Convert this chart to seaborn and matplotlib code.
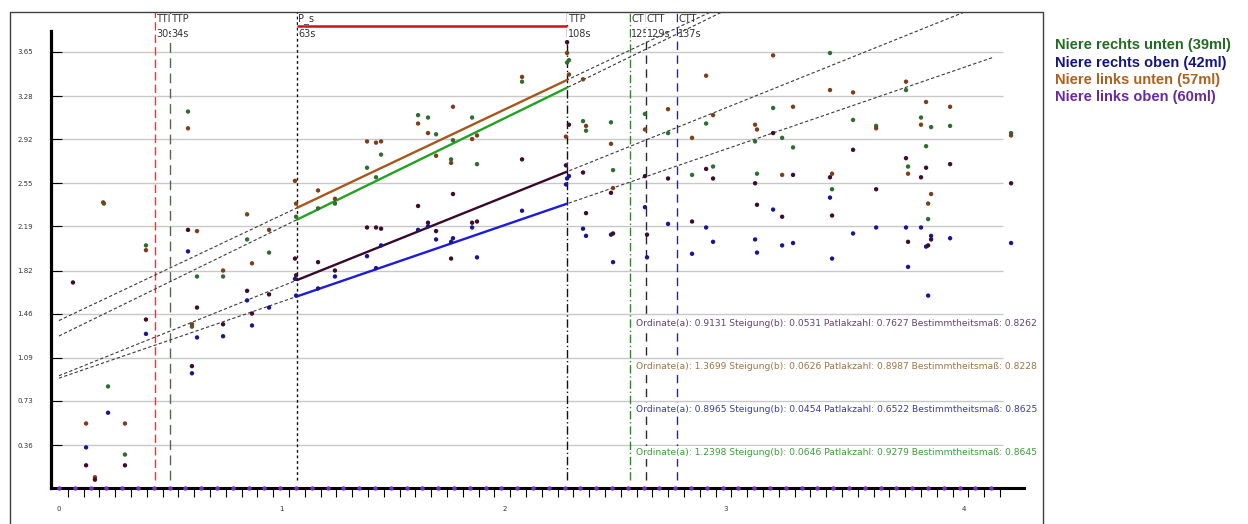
import numpy as np
import pandas as pd
import matplotlib
matplotlib.use('Agg')
import matplotlib.pyplot as plt
import seaborn as sns

# Series (legend order)
series_names = ['Niere rechts unten (39ml)', 'Niere rechts oben (42ml)',
                'Niere links unten (57ml)', 'Niere links oben (60ml)']
legend_colors = ['#226b22', '#15157f', '#b0601c', '#6a2a9e']
point_colors = ['#2e6e2e', '#18188c', '#7c3f1c', '#3e0c2c']
fit_colors = ['#22a322', '#1c1ce0', '#a8581c', '#380a2e']
text_colors = ['#3c9c3c', '#3c3ca0', '#9c7444', '#62406e']

# Patlak points, x in frame units, y in ratio units
green_x = [3.35, 3.61, 4.68, 6.01, 8.67, 8.92, 9.24, 10.89, 12.41, 13.80, 15.51, 16.90, 17.97,
           20.00, 20.57, 20.89, 23.23, 23.86, 24.37, 25.32, 25.44, 26.65, 26.96, 29.81, 32.66,
           32.78, 33.67, 33.86, 35.44, 35.57, 37.59, 39.05, 40.57, 41.46, 41.90, 44.56, 44.68,
           45.70, 46.27, 46.96, 49.30, 49.43, 50.76, 52.22, 54.11, 54.24, 55.06, 55.38, 55.51,
           55.70, 56.90, 60.76]
green_y = [2.38, 0.85, 0.28, 2.03, 3.15, 1.35, 1.77, 1.77, 2.08, 1.97, 2.27, 2.34, 2.38,
           2.68, 2.60, 2.79, 3.12, 3.10, 2.96, 2.75, 2.91, 3.10, 2.71, 3.40, 3.56,
           3.58, 3.07, 2.99, 3.06, 2.66, 3.13, 2.97, 2.62, 3.05, 2.69, 2.90, 2.63,
           3.18, 2.93, 2.85, 3.64, 2.50, 3.08, 3.03, 3.33, 2.69, 3.10, 2.86, 2.25,
           3.02, 3.03, 2.97]

blue_x = [2.22, 3.61, 6.01, 8.67, 8.92, 9.24, 10.89, 12.41, 12.72, 13.80, 15.44, 15.51, 16.90,
          17.97, 20.00, 20.57, 20.89, 23.23, 23.86, 24.37, 25.32, 25.44, 26.65, 26.96, 29.81,
          32.59, 32.66, 32.78, 33.67, 33.86, 35.44, 35.57, 37.59, 37.72, 39.05, 40.57, 41.46,
          41.90, 44.56, 44.68, 45.70, 46.27, 46.96, 49.30, 49.43, 50.76, 52.22, 54.11, 54.24,
          55.06, 55.38, 55.51, 55.70, 56.90, 60.76]
blue_y = [0.34, 0.63, 1.29, 1.98, 0.96, 1.26, 1.27, 1.57, 1.36, 1.51, 1.75, 1.61, 1.67,
          1.77, 1.94, 1.84, 2.03, 2.16, 2.19, 2.08, 2.06, 2.09, 2.18, 1.93, 2.32,
          2.54, 2.59, 2.61, 2.17, 2.11, 2.12, 1.89, 2.35, 1.93, 2.21, 1.96, 2.18,
          2.06, 2.08, 1.97, 2.33, 2.03, 2.05, 2.43, 1.92, 2.13, 2.18, 2.18, 1.85,
          2.18, 2.02, 1.61, 2.11, 2.09, 2.05]

orange_x = [2.22, 2.78, 3.30, 4.68, 6.01, 8.67, 8.92, 9.24, 10.89, 12.41, 12.72, 13.80, 15.44,
            15.51, 16.90, 17.97, 20.00, 20.57, 20.89, 23.23, 23.86, 24.37, 25.32, 25.44, 26.65,
            26.96, 29.81, 32.59, 32.66, 32.78, 33.67, 33.86, 35.44, 35.57, 37.59, 39.05, 40.57,
            41.46, 41.90, 44.56, 44.68, 45.70, 46.27, 46.96, 49.30, 49.43, 50.76, 52.22, 54.11,
            54.24, 55.06, 55.38, 55.51, 55.70, 56.90, 60.76]
orange_y = [0.54, 0.09, 2.39, 0.54, 1.99, 3.01, 1.37, 2.15, 1.82, 2.29, 1.88, 2.16, 2.57,
            2.38, 2.49, 2.42, 2.90, 2.89, 2.90, 3.05, 2.97, 2.78, 2.72, 3.19, 2.92,
            2.95, 3.44, 2.94, 3.64, 3.46, 3.42, 3.03, 2.88, 2.51, 3.00, 3.17, 2.93,
            3.45, 3.12, 3.04, 3.00, 3.62, 2.62, 3.19, 3.33, 2.63, 3.31, 3.01, 3.40,
            2.63, 3.04, 3.23, 2.38, 2.46, 3.19, 2.95]

purple_x = [1.39, 2.22, 2.78, 4.68, 6.01, 8.67, 8.92, 9.24, 10.89, 12.41, 12.72, 13.80, 15.44,
            15.51, 16.90, 17.97, 20.00, 20.57, 20.89, 23.23, 23.86, 24.37, 25.32, 25.44, 26.65,
            26.96, 29.81, 32.59, 32.66, 32.78, 33.67, 33.86, 35.44, 35.57, 37.59, 37.72, 39.05,
            40.57, 41.46, 41.90, 44.56, 44.68, 45.70, 46.27, 46.96, 49.30, 49.43, 50.76, 52.22,
            54.11, 54.24, 55.06, 55.38, 55.51, 55.70, 56.90, 60.76]
purple_y = [1.72, 0.19, 0.07, 0.19, 1.41, 2.16, 1.02, 1.51, 1.37, 1.65, 1.46, 1.62, 1.92,
            1.78, 1.89, 1.82, 2.18, 2.18, 2.17, 2.36, 2.22, 2.15, 1.92, 2.46, 2.22,
            2.23, 2.75, 2.70, 3.73, 3.04, 2.64, 2.30, 2.47, 2.13, 2.61, 2.12, 2.59,
            2.23, 2.67, 2.59, 2.55, 2.37, 2.97, 2.27, 2.62, 2.60, 2.28, 2.83, 2.50,
            2.76, 2.06, 2.60, 2.68, 2.03, 2.08, 2.71, 2.55]

# frame markers on the time axis
frame_x = [0.5, 1.5, 2.5, 3.5, 4.5, 5.5, 6.5, 7.5, 8.5, 9.5, 10.5, 11.5, 12.5, 13.5, 14.5,
           15.5, 16.5, 17.5, 18.5, 19.5, 20.5, 21.5, 22.5, 23.5, 24.5, 25.5, 26.5, 27.5,
           28.5, 29.5, 30.5, 31.5, 32.5, 33.5, 34.5, 35.5, 36.5, 37.5, 38.5, 39.5, 40.5,
           41.5, 42.5, 43.5, 44.5, 45.5, 46.5, 47.5, 48.5, 49.5, 50.5, 51.5, 52.5, 53.5,
           54.5, 55.5, 56.5, 57.5, 58.5, 59.5]
frame_y = [0.0] * len(frame_x)

# Regression results (ordinate a, slope b, Patlak number, R^2), legend order
fit_a = [1.2398, 0.8965, 1.3699, 0.9131]
fit_b = [0.0646, 0.0454, 0.0626, 0.0531]
fit_patlak = [0.9279, 0.6522, 0.8987, 0.7627]
fit_r2 = [0.8645, 0.8625, 0.8228, 0.8262]
text_order = [3, 2, 1, 0]  # top to bottom in the annotation block

# Time markers
mark_names = ['TTI', 'TTP', 'P_s', 'TTP', 'CT', 'CTT', 'CTT']
mark_times = ['30s', '34s', '63s', '108s', '125s', '129s', '137s']
mark_x = [6.58, 7.53, 15.57, 32.64, 36.65, 37.64, 39.64]
mark_colors = ['#e03c3c', '#506a50', '#111111', '#111111', '#2a8a2a', '#282840', '#282880']
mark_styles = [(0, (6, 3)), (0, (7, 4)), (0, (2, 2)), (0, (6, 2, 1, 2)),
               (0, (6, 2, 1, 2)), (0, (6, 4)), (0, (6, 4))]
fit_start, fit_end = 15.57, 32.64

y_ticks = [0.36, 0.73, 1.09, 1.46, 1.82, 2.19, 2.55, 2.92, 3.28, 3.65]
x_tick_labels = ['0', '1', '2', '3', '4']
x_tick_pos = [0.5, 14.6, 28.7, 42.7, 57.8]

# long table for seaborn
xs = [green_x, blue_x, orange_x, purple_x]
ys = [green_y, blue_y, orange_y, purple_y]
df = pd.concat([pd.DataFrame({'x': x, 'y': y, 'series': n})
                for x, y, n in zip(xs, ys, series_names)], ignore_index=True)

sns.set_style('white')
plt.rcParams['font.family'] = ['DejaVu Sans']

fig = plt.figure(figsize=(12.48, 5.24), dpi=100)
ax = fig.add_axes([10 / 1248, 0, 1033 / 1248, 512 / 524])
ax.set_xlim(-2.595, 62.78)
ax.set_ylim(-0.301, 3.983)

# outer frame (no bottom edge)
ax.plot([0, 0, 1, 1], [0, 1, 1, 0], transform=ax.transAxes, color='#404040',
        lw=1, clip_on=False, zorder=10)
ax.spines['top'].set_visible(False)
ax.spines['right'].set_visible(False)
ax.spines['left'].set_position(('data', 0))
ax.spines['bottom'].set_position(('data', 0))
ax.spines['left'].set_bounds(0, 3.82)
ax.spines['bottom'].set_bounds(0, 61.6)
ax.spines['left'].set_linewidth(2.3)
ax.spines['bottom'].set_linewidth(2.2)
ax.spines['left'].set_color('black')
ax.spines['bottom'].set_color('black')
ax.spines['left'].set_zorder(8)
ax.spines['bottom'].set_zorder(8)

ax.set_yticks(y_ticks)
ax.set_yticklabels([f'{v:.2f}' for v in y_ticks])
ax.tick_params(axis='y', direction='in', length=8, width=0.8, color='black',
               pad=13, labelsize=5, labelcolor='#333333', left=True)
ax.set_xticks(x_tick_pos)
ax.set_xticklabels(x_tick_labels)
ax.set_xticks(np.arange(1.06, 60.1, 1.0), minor=True)
ax.tick_params(axis='x', which='major', length=0, pad=13, labelsize=5,
               labelcolor='#333333')
ax.tick_params(axis='x', which='minor', direction='out', length=6.5, width=0.8,
               color='black', bottom=True)

# grid lines
ax.hlines(y_ticks, 0, 60.25, color='#c8c8c8', lw=1, zorder=0.5)

# vertical time markers and their labels
for xm, c, ls, nm, tm in zip(mark_x, mark_colors, mark_styles, mark_names, mark_times):
    ax.plot([xm, xm], [0.07, 3.983], color=c, lw=1.0, linestyle=ls, zorder=1)
    ax.text(xm + 0.06, 3.925, nm, fontsize=7, color='#333333', ha='left', va='center',
            zorder=2, bbox=dict(facecolor='white', edgecolor='none', pad=0.3))
    ax.text(xm + 0.06, 3.80, tm, fontsize=7, color='#333333', ha='left', va='center',
            zorder=2, bbox=dict(facecolor='white', edgecolor='none', pad=0.3))

# fit window
ax.plot([fit_start, fit_end], [3.87, 3.87], color='#c8141e', lw=1.8, zorder=4,
        solid_capstyle='butt')

# regression lines: dashed extension and solid fit range
for a, b, c in zip(fit_a, fit_b, fit_colors):
    ext = np.array([0.5, 59.6])
    ax.plot(ext, a + b * ext, color='#3a3a3a', lw=0.8, linestyle=(0, (3, 2)), zorder=3)
    seg = np.array([fit_start, fit_end])
    ax.plot(seg, a + b * seg, color=c, lw=1.7, zorder=4)

# points
sns.scatterplot(data=df, x='x', y='y', hue='series', hue_order=series_names,
                palette=dict(zip(series_names, point_colors)), s=10, linewidth=0,
                legend=False, ax=ax, zorder=6)
sns.scatterplot(x=frame_x, y=frame_y, color='#7a30d0', s=10, linewidth=0,
                legend=False, ax=ax, zorder=9)
ax.set_xlabel('')
ax.set_ylabel('')

# regression annotations
for row, i in enumerate(text_order):
    txt = (f'Ordinate(a): {fit_a[i]:.4f} Steigung(b): {fit_b[i]:.4f} '
           f'Patlakzahl: {fit_patlak[i]:.4f} Bestimmtheitsmaß: {fit_r2[i]:.4f}')
    ax.text(62.4, 1.38 - row * 0.36, txt, fontsize=6.6, color=text_colors[i],
            ha='right', va='center', zorder=5,
            bbox=dict(facecolor='white', edgecolor='none', pad=1.5))

# legend as coloured text outside the frame
for k, (name, c) in enumerate(zip(series_names, legend_colors)):
    fig.text(1055 / 1248, 1 - (45 + 17.5 * k) / 524, name, color=c, fontsize=10.5,
             fontweight='bold', family=['Liberation Sans', 'DejaVu Sans'],
             ha='left', va='center')

fig.savefig('out.png', dpi=100)
